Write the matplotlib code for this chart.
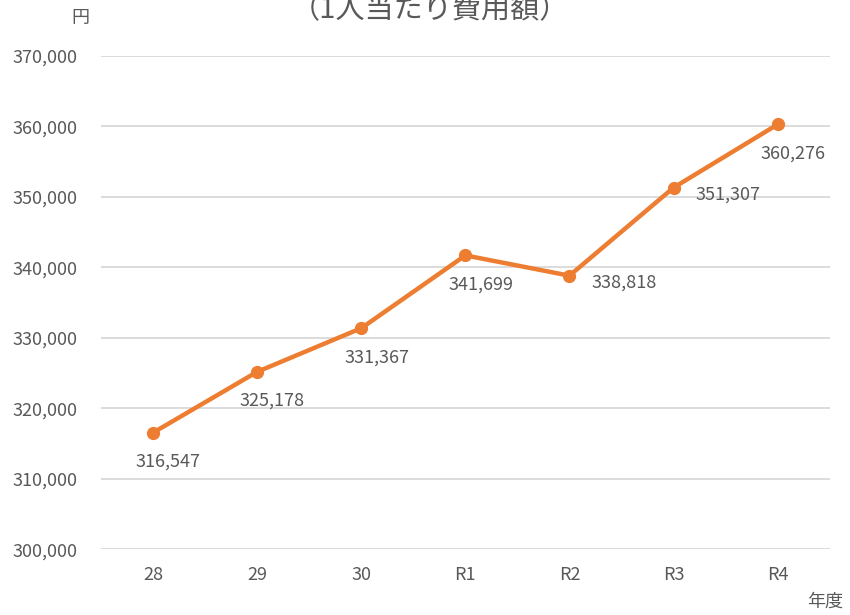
import matplotlib
matplotlib.use("Agg")
import matplotlib.pyplot as plt
from matplotlib.ticker import FuncFormatter

plt.rcParams["font.family"] = ["Noto Sans CJK JP", "DejaVu Sans"]

# data
years = ["28", "29", "30", "R1", "R2", "R3", "R4"]
cost_per_person = [316547, 325178, 331367, 341699, 338818, 351307, 360276]
label_side = ["below", "below", "below", "below", "right", "right", "below"]

TEXT = "#595959"
ORANGE = "#ED7D31"

fig = plt.figure(figsize=(8.5, 6.15), dpi=100)
ax = fig.add_axes([0.119, 0.107, 0.857, 0.802])

x = list(range(len(years)))
ax.plot(x, cost_per_person, color=ORANGE, linewidth=3.2, marker="o",
        markersize=8.5, solid_capstyle="round", zorder=3)

for xi, val, side in zip(x, cost_per_person, label_side):
    txt = f"{val:,}"
    if side == "below":
        ax.annotate(txt, (xi, val), xytext=(11, -21), textcoords="offset points",
                    ha="center", va="center", fontsize=13, color=TEXT)
    else:
        ax.annotate(txt, (xi, val), xytext=(16, -5), textcoords="offset points",
                    ha="left", va="center", fontsize=13, color=TEXT)

ax.set_xlim(-0.5, len(years) - 0.5)
ax.set_ylim(300000, 370000)
ax.set_yticks(range(300000, 370001, 10000))
ax.yaxis.set_major_formatter(FuncFormatter(lambda v, _: f"{int(v):,}"))
ax.set_xticks(x)
ax.set_xticklabels(years)
ax.tick_params(length=0, labelsize=13, labelcolor=TEXT, pad=12)
ax.tick_params(axis="y", pad=17)
ax.grid(axis="y", color="#D9D9D9", linewidth=1.3)
ax.set_axisbelow(True)
for s in ax.spines.values():
    s.set_visible(False)

# title sits partly above the top edge, as in the source image
fig.text(0.506, 0.983, "（1人当たり費用額）", ha="center", va="center",
         fontsize=21, color=TEXT)
fig.text(0.095, 0.970, "円", ha="center", va="center", fontsize=13, color=TEXT)
fig.text(0.971, 0.022, "年度", ha="center", va="center", fontsize=13, color=TEXT)

fig.savefig("out.png", dpi=100)
